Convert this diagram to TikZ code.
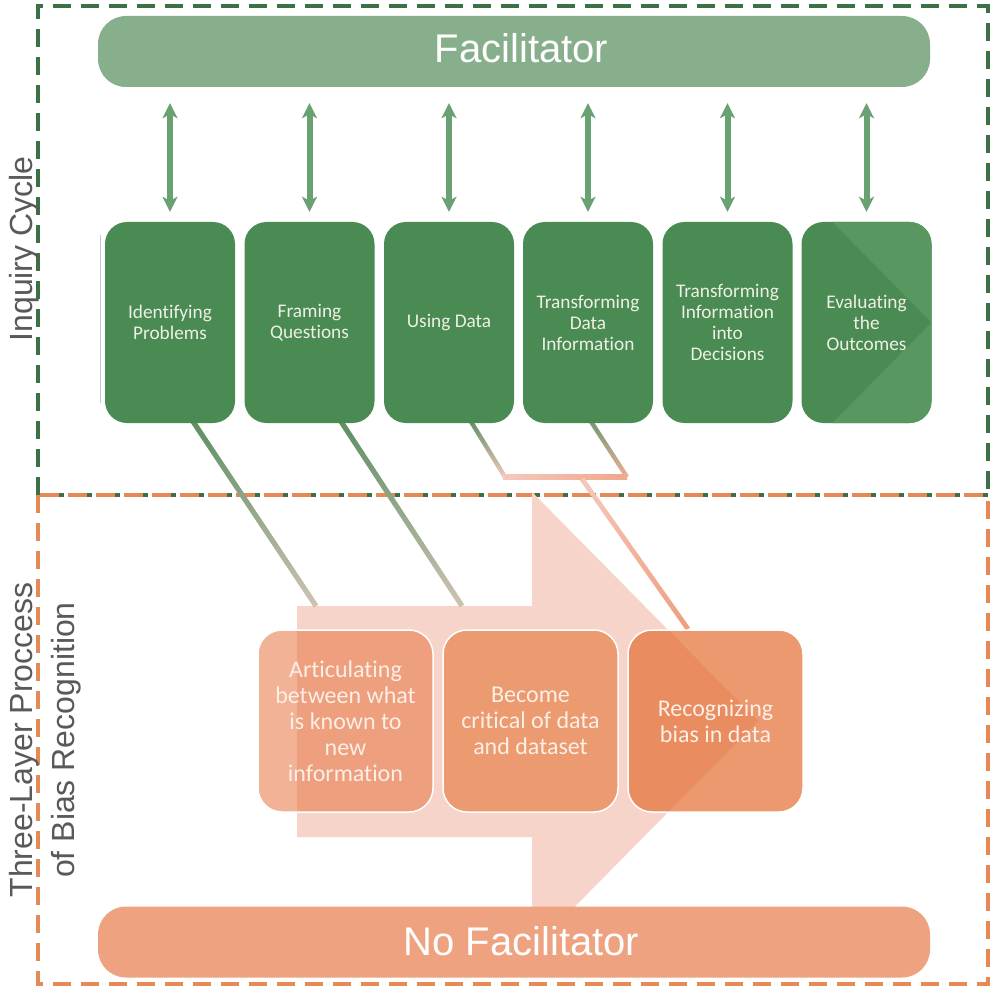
\documentclass[tikz,border=0pt]{standalone}
\usepackage{fontspec}
\setmainfont{Liberation Sans}
\newfontfamily\boxfont[Ligatures=CommonOff]{Carlito}
\usetikzlibrary{calc,arrows.meta}

\definecolor{gdash}{HTML}{3D7046}
\definecolor{odash}{HTML}{E68A55}
\definecolor{facfill}{HTML}{88AF8C}
\definecolor{nofacfill}{HTML}{EEA27F}
\definecolor{gbox}{HTML}{4A8A53}
\definecolor{gboxlight}{HTML}{589860}
\definecolor{garrow}{HTML}{6AA172}
\definecolor{parrow}{HTML}{F7D4C9}
\definecolor{oboxa}{RGB}{232,119,68}
\definecolor{oboxb}{HTML}{EC9A6F}
\definecolor{oboxc}{RGB}{228,110,50}
\definecolor{labelgray}{HTML}{595959}
\definecolor{gtext}{HTML}{EEF0E4}
\definecolor{otext}{HTML}{FCEFE7}
\definecolor{lgreen}{HTML}{5B8E62}
\definecolor{lbeige}{HTML}{CFC3B3}
\definecolor{lpink}{HTML}{F5C8BD}
\definecolor{lsalmon}{HTML}{EE9F7E}

\newcommand\gradline[4]{\shade[#4] ($(#1)!#3!90:(#2)$) -- ($(#1)!#3!-90:(#2)$) -- ($(#2)!#3!90:(#1)$) -- ($(#2)!#3!-90:(#1)$) -- cycle;}

\tikzset{
  gstep/.style={rectangle, rounded corners=22pt, fill=gbox, minimum width=130pt, minimum height=201pt, inner sep=0pt, text=gtext, font=\boxfont\fontsize{19.3}{21}\selectfont, align=center},
  ostep/.style={rectangle, rounded corners=24pt, draw=white, line width=1.5pt, minimum width=175pt, minimum height=182pt, inner sep=0pt, text=otext, text opacity=1, font=\boxfont\fontsize{24}{26}\selectfont, align=center},
  band/.style={rectangle, rounded corners=28pt, minimum width=832pt, minimum height=71pt, inner sep=0pt, text=white, font=\fontsize{40}{45}\selectfont},
  sidelabel/.style={rotate=90, text=labelgray, font=\fontsize{32}{42}\selectfont, align=center, inner sep=0pt},
  dblarrow/.style={draw=garrow, line width=6pt, {Stealth[length=15pt,width=15pt,inset=4pt]}-{Stealth[length=15pt,width=15pt,inset=4pt]}},
  gborder/.style={draw=gdash, line width=4pt, dash pattern=on 18pt off 10pt},
  oborder/.style={draw=odash, line width=4pt, dash pattern=on 18pt off 10pt},
}

\begin{document}
\begin{tikzpicture}[x=1pt,y=-1pt]
\useasboundingbox (0,0) rectangle (993,992);
\fill[white] (0,0) rectangle (993,992);

% dashed frames
\draw[gborder] (38,495) -- (38,6) -- (988,6) -- (988,495);
\draw[gborder, dash pattern=on 19pt off 9pt, dash phase=21.3pt] (38,495) -- (988,495);
\draw[oborder, dash pattern=on 19pt off 9pt, dash phase=25.7pt] (38,495) -- (988,495);
\draw[oborder] (38,495) -- (38,984) -- (988,984) -- (988,495);

% big pale arrow
\fill[parrow] (297,606) -- (532,606) -- (532,492) -- (758,721) -- (532,950) -- (532,837) -- (297,837) -- cycle;

% thin grey line
\draw[gray!45, line width=1pt] (100,235) -- (100,403);

% connector coordinates
\coordinate (c1a) at (192,420);
\coordinate (c1b) at (316,606);
\coordinate (c2a) at (340,420);
\coordinate (c2b) at (462,606);
\coordinate (c3a) at (470,420);
\coordinate (c3b) at (505,477);
\coordinate (c3bb) at (503,477);
\coordinate (c3c) at (627,477);
\coordinate (c3d) at (590,420);
\coordinate (c4a) at (582,479);
\coordinate (c4b) at (688,629);

\gradline{c1a}{c1b}{2.6pt}{top color=lgreen, bottom color=lbeige}
\gradline{c2a}{c2b}{2.6pt}{top color=lgreen, bottom color=lbeige}
\gradline{c3a}{c3b}{2.2pt}{top color=lgreen, bottom color=lpink}
\gradline{c3bb}{c3c}{2.2pt}{left color=lpink, right color=lsalmon!80!lpink}
\gradline{c3d}{c3c}{2.2pt}{top color=lgreen!90!white, bottom color=lsalmon!60!lpink}
\gradline{c4a}{c4b}{2.4pt}{top color=lpink, bottom color=lsalmon}

% inquiry cycle steps
\node[gstep] (g1) at (170,322.5) {Identifying\\Problems};
\node[gstep] (g2) at (309.5,322.5) {Framing\\Questions};
\node[gstep] (g3) at (449,322.5) {Using Data};
\node[gstep] (g4) at (588,322.5) {Transforming\\Data\\Information};
\node[gstep] (g5) at (727.5,322.5) {Transforming\\Information\\into\\Decisions};
\node[gstep, path picture={
    \fill[gboxlight, sharp corners] ([xshift=31pt]path picture bounding box.north west) -- (path picture bounding box.north east) -- (path picture bounding box.east) -- cycle;
    \fill[gboxlight, sharp corners] (path picture bounding box.east) -- (path picture bounding box.south east) -- ([xshift=31pt]path picture bounding box.south west) -- cycle;
  }] (g6) at (866.5,322.5) {Evaluating\\the\\Outcomes};

% bias recognition steps
\node[ostep, fill=oboxa, fill opacity=0.56] (o1) at (345.5,721) {Articulating\\between what\\is known to\\new\\information};
\node[ostep, fill=oboxb] (o2) at (530.5,721) {Become\\critical of data\\and dataset};
\node[ostep, fill=oboxc, fill opacity=0.7] (o3) at (715.5,721) {Recognizing\\bias in data};

% bands
\node[band, fill=facfill, text height=29pt, text depth=6pt] (fac) at (514,51.5) {\hspace*{15pt}Facilitator};
\node[band, fill=nofacfill, text height=29pt, text depth=3pt] (nofac) at (514,942) {\hspace*{15pt}No Facilitator};

% facilitator arrows
\foreach \i in {1,...,6}
  \draw[dblarrow] ($(fac.south -| g\i.north)+(0,16)$) -- ($(g\i.north)+(0,-10)$);

% side labels
\node[sidelabel] (lab1) at (24,249) {Inquiry Cycle};
\node[sidelabel] (lab2) at (45,740) {Three-Layer Proccess\\of Bias Recognition};
\end{tikzpicture}
\end{document}
